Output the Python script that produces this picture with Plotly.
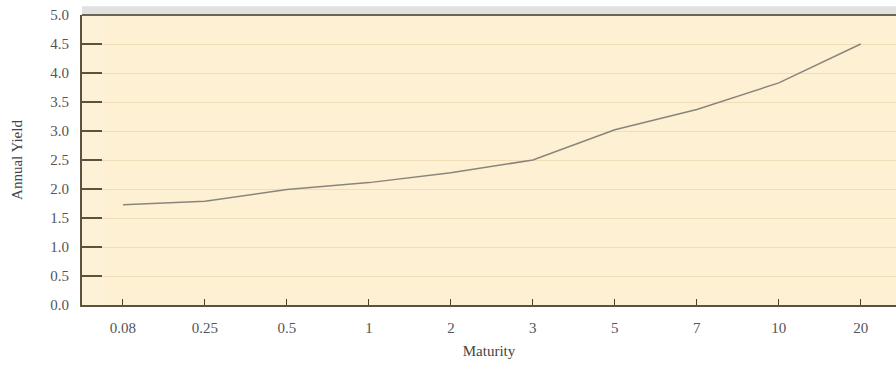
import plotly.graph_objects as go

maturity = ["0.08", "0.25", "0.5", "1", "2", "3", "5", "7", "10", "20"]
annual_yield = [1.73, 1.79, 1.99, 2.11, 2.28, 2.5, 3.02, 3.37, 3.83, 4.5]
y_ticks = [0.0, 0.5, 1.0, 1.5, 2.0, 2.5, 3.0, 3.5, 4.0, 4.5, 5.0]
y_tick_labels = ["0.0", "0.5", "1.0", "1.5", "2.0", "2.5", "3.0", "3.5", "4.0", "4.5", "5.0"]

font = "Liberation Serif, Times New Roman, serif"

fig = go.Figure()
fig.add_trace(go.Scatter(
    x=list(range(len(maturity))), y=annual_yield, mode="lines",
    line=dict(color="#8a857c", width=1.5), showlegend=False, hoverinfo="skip"))

fig.update_layout(
    width=896, height=370,
    margin=dict(l=82, r=0, t=15, b=65),
    paper_bgcolor="white",
    plot_bgcolor="#fdf0d3",
    font=dict(family=font, size=16, color="#444444"),
    xaxis=dict(
        range=[-0.5, 9.43],
        tickmode="array", tickvals=list(range(len(maturity))), ticktext=maturity,
        ticks="inside", ticklen=6, tickcolor="#4a4030", tickwidth=1,
        showgrid=False, zeroline=False,
        showline=True, linecolor="#5b5240", linewidth=2,
        title=dict(text="Maturity", font=dict(size=15, family=font, color="#444444"), standoff=10),
        tickfont=dict(size=15, family=font, color="#555555"),
        ticklabelstandoff=8, ticklabeloverflow="allow",
        fixedrange=True,
    ),
    yaxis=dict(
        range=[0, 5.0],
        tickmode="array", tickvals=y_ticks, ticktext=y_tick_labels,
        ticks="inside", ticklen=20, tickcolor="#5b5240", tickwidth=1.5,
        showgrid=True, gridcolor="#efdcb9", gridwidth=1,
        zeroline=False,
        showline=True, linecolor="#5b5240", linewidth=2,
        title=dict(text="Annual Yield", font=dict(size=15, family=font, color="#444444"), standoff=24),
        tickfont=dict(size=15, family=font, color="#555555"),
        ticklabelstandoff=8, ticklabeloverflow="allow",
        fixedrange=True,
    ),
    shapes=[
        dict(type="rect", xref="paper", yref="paper", x0=0, x1=0.028, y0=0, y1=1,
             line=dict(width=0), fillcolor="rgba(255,255,255,0.12)", layer="below"),
        dict(type="line", xref="paper", yref="paper", x0=0, x1=1, y0=1, y1=1,
             line=dict(color="#6b6555", width=2)),
        dict(type="rect", xref="paper", yref="paper", x0=0, x1=1, y0=1.0, y1=1.03,
             line=dict(width=0), fillcolor="rgba(120,120,110,0.22)", layer="below"),
    ],
)

fig.write_html("out.html", config={"displayModeBar": False},
               post_script="document.body.style.margin='0';")
